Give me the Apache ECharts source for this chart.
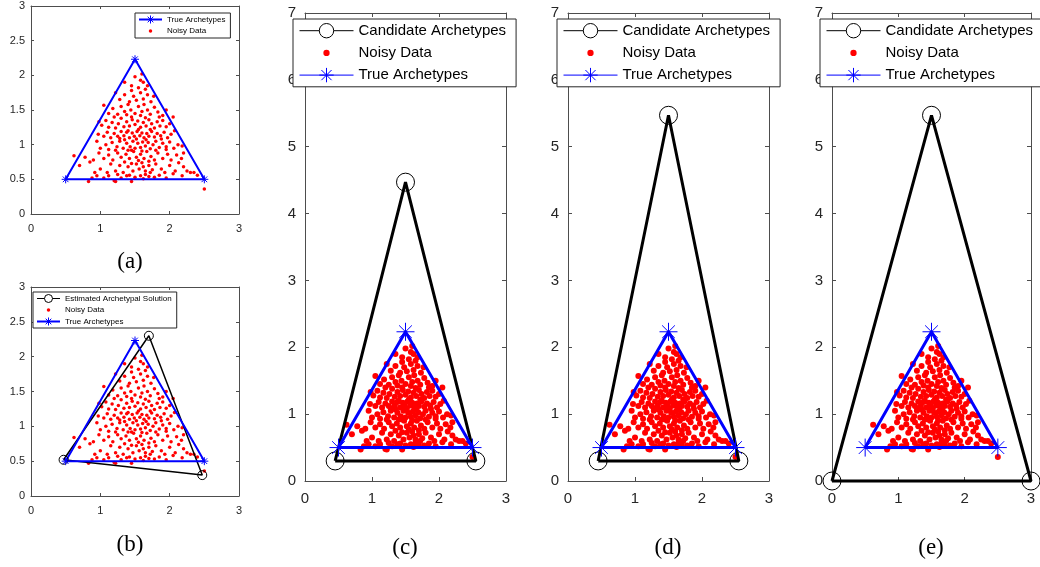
<!DOCTYPE html>
<html>
<head>
<meta charset="utf-8">
<script src="https://cdn.jsdelivr.net/npm/echarts@6/dist/echarts.min.js"></script>
<style>
html, body { margin: 0; padding: 0; background: #fff; }
#chartDom { width: 1040px; height: 567px; }
</style>
</head>
<body>
<div id="chartDom"></div>
<script>
// noisy samples; the same cloud is plotted in every panel
var noisyData = [
  [0.83,0.47],[0.88,0.52],[0.95,0.55],[1.05,0.52],[1.12,0.55],[1.2,0.48],[1.22,0.47],[1.3,0.52],[1.38,0.55],[1.45,0.47],
  [1.5,0.53],[1.58,0.55],[1.62,0.51],[1.7,0.54],[1.78,0.53],[1.85,0.56],[1.95,0.52],[2.05,0.58],[2.18,0.55],[2.3,0.6],
  [2.4,0.56],[2.5,0.36],[1.65,0.57],[1.42,0.56],[1.25,0.57],
  [0.7,0.7],[0.85,0.75],[0.92,0.6],[1.0,0.65],[1.1,0.6],[1.15,0.72],[1.22,0.62],[1.28,0.7],[1.33,0.6],[1.4,0.68],
  [1.47,0.62],[1.52,0.72],[1.56,0.65],[1.6,0.74],[1.65,0.62],[1.7,0.7],[1.75,0.64],[1.8,0.72],[1.88,0.65],[1.93,0.6],
  [2.0,0.7],[2.08,0.62],[2.13,0.74],[2.25,0.62],[2.35,0.6],[1.35,0.75],[1.45,0.73],[1.62,0.68],[1.72,0.6],[2.2,0.68],
  [0.62,0.84],[0.78,0.82],[0.9,0.78],[0.98,0.88],[1.05,0.8],[1.12,0.85],[1.18,0.78],[1.25,0.88],[1.3,0.82],[1.37,0.86],
  [1.42,0.8],[1.48,0.9],[1.52,0.82],[1.58,0.86],[1.63,0.8],[1.67,0.9],[1.73,0.83],[1.78,0.78],[1.83,0.88],[1.9,0.8],
  [1.97,0.86],[2.02,0.78],[2.1,0.85],[2.17,0.8],[2.2,0.88],[1.55,0.77],[1.4,0.92],[1.7,0.76],[1.22,0.92],[1.95,0.93],
  [0.95,1.05],[1.0,0.95],[1.08,1.0],[1.12,0.93],[1.17,1.03],[1.24,0.97],[1.28,1.05],[1.33,0.95],[1.38,1.02],[1.43,0.97],
  [1.47,1.05],[1.5,0.95],[1.54,1.02],[1.58,0.96],[1.61,1.04],[1.65,0.98],[1.69,1.03],[1.72,0.94],[1.76,1.0],[1.8,1.05],
  [1.85,0.96],[1.9,1.02],[1.95,0.97],[2.0,1.04],[2.06,0.95],[2.12,1.0],[2.18,0.98],[1.35,1.07],[1.52,1.08],[1.66,1.07],
  [1.45,0.92],[1.6,0.91],[1.8,0.92],
  [0.97,1.15],[1.05,1.12],[1.1,1.18],[1.15,1.1],[1.2,1.16],[1.25,1.12],[1.3,1.19],[1.34,1.13],[1.38,1.18],[1.42,1.1],
  [1.46,1.17],[1.49,1.12],[1.53,1.19],[1.57,1.13],[1.6,1.17],[1.63,1.1],[1.67,1.16],[1.7,1.12],[1.74,1.19],[1.78,1.11],
  [1.82,1.16],[1.87,1.13],[1.92,1.18],[1.97,1.1],[2.02,1.15],[2.07,1.2],[1.4,1.2],[1.55,1.22],[1.72,1.22],[1.28,1.09],
  [1.88,1.08],
  [1.02,1.28],[1.08,1.35],[1.12,1.25],[1.17,1.32],[1.22,1.24],[1.26,1.3],[1.3,1.38],[1.34,1.26],[1.38,1.33],[1.42,1.27],
  [1.46,1.36],[1.5,1.29],[1.54,1.34],[1.58,1.25],[1.62,1.32],[1.66,1.27],[1.7,1.36],[1.74,1.3],[1.78,1.24],[1.82,1.33],
  [1.86,1.27],[1.9,1.35],[1.95,1.26],[2.0,1.3],[2.05,1.4],[0.98,1.33],[1.2,1.4],[1.45,1.4],[1.65,1.39],[1.85,1.4],
  [1.05,1.57],[1.12,1.45],[1.18,1.52],[1.25,1.44],[1.3,1.55],[1.35,1.48],[1.4,1.58],[1.44,1.5],[1.5,1.45],[1.55,1.55],
  [1.6,1.48],[1.63,1.58],[1.68,1.5],[1.72,1.44],[1.78,1.54],[1.83,1.47],[1.9,1.42],[1.95,1.5],[1.38,1.43],[1.58,1.42],
  [1.22,1.75],[1.28,1.65],[1.35,1.72],[1.42,1.62],[1.48,1.7],[1.52,1.64],[1.58,1.75],[1.62,1.66],[1.68,1.72],[1.73,1.62],
  [1.77,1.7],[1.45,1.78],[1.65,1.8],
  [1.35,1.9],[1.45,1.85],[1.55,1.82],[1.58,1.93],[1.62,1.9],[1.6,2.02],[1.5,1.98],[1.68,1.85]
];

var trueArchetypes = [[0.5, 0.5], [1.5, 2.232], [2.5, 0.5]];
var estimatedArchetypes = [[0.47, 0.52], [1.7, 2.3], [2.47, 0.3]];
var candidateC = [[0.45, 0.3], [1.5, 4.47], [2.55, 0.3]];
var candidateD = [[0.45, 0.3], [1.5, 5.47], [2.55, 0.3]];
var candidateE = [[0, 0], [1.5, 5.47], [3, 0]];
var captions = ['(a)', '(b)', '(c)', '(d)', '(e)'];

var STAR = 'path://M10,0L10,20M0,10L20,10M2.93,2.93L17.07,17.07M2.93,17.07L17.07,2.93';
var DOT_BIG = 'path://M0,0M20,20M13.5,10A3.5,3.5,0,1,1,6.5,10A3.5,3.5,0,1,1,13.5,10Z';
var DOT_SMALL = 'path://M0,0M20,20M13.5,10A3.5,3.5,0,1,1,6.5,10A3.5,3.5,0,1,1,13.5,10Z';
var BOX = '#4d4d4d', TXT = '#262626', FONT = 'Liberation Sans';

var myChart = echarts.init(document.getElementById('chartDom'));

var grids = [
  {left: 31, top: 6, width: 208, height: 208},
  {left: 31, top: 287, width: 208, height: 209},
  {left: 305, top: 13, width: 201, height: 468},
  {left: 568, top: 13, width: 201, height: 468},
  {left: 832, top: 13, width: 199, height: 468}
];
var xAxes = [], yAxes = [], series = [];

function addAxes(g, yMax, yStep, small) {
  var fs = small ? 11 : 15;
  var common = {
    gridIndex: g, type: 'value',
    axisLine: {show: true, onZero: false, lineStyle: {color: BOX, width: 1}},
    axisTick: {show: true, inside: true, length: small ? 3 : 4, lineStyle: {color: BOX}},
    splitLine: {show: false}
  };
  xAxes.push(Object.assign({}, common, {position: 'bottom', min: 0, max: 3, interval: 1,
    axisLabel: {fontSize: fs, color: TXT, fontFamily: FONT, margin: small ? 9 : 10}}));
  xAxes.push(Object.assign({}, common, {position: 'top', min: 0, max: 3, interval: 1, axisLabel: {show: false}}));
  yAxes.push(Object.assign({}, common, {position: 'left', min: 0, max: yMax, interval: yStep,
    axisLabel: {fontSize: fs, color: TXT, fontFamily: FONT, margin: small ? 6 : 9}}));
  yAxes.push(Object.assign({}, common, {position: 'right', min: 0, max: yMax, interval: yStep, axisLabel: {show: false}}));
}

function closed(pts) {
  return pts.concat([{value: pts[0], symbol: 'none'}]);
}

function trueSeries(g, big) {
  return {
    name: 'True Archetypes', type: 'line', xAxisIndex: 2 * g, yAxisIndex: 2 * g,
    data: closed(trueArchetypes), symbol: STAR, symbolSize: big ? 18 : 8,
    lineStyle: {color: '#0000ff', width: big ? 3 : 2},
    itemStyle: {color: '#0000ff', borderColor: '#0000ff', borderWidth: 1},
    clip: false, silent: true, animation: false
  };
}
function noisySeries(g, big) {
  return {
    name: 'Noisy Data', type: 'scatter', xAxisIndex: 2 * g, yAxisIndex: 2 * g,
    data: noisyData, symbol: 'circle', symbolSize: big ? 6 : 3.5,
    itemStyle: {color: '#ff0000', opacity: 1}, silent: true, animation: false
  };
}
function blackSeries(g, name, pts, big) {
  return {
    name: name, type: 'line', xAxisIndex: 2 * g, yAxisIndex: 2 * g,
    data: closed(pts), symbol: 'circle', symbolSize: big ? 18 : 9,
    lineStyle: {color: '#000', width: big ? 3 : 1.5},
    itemStyle: {color: 'rgba(0,0,0,0)', borderColor: '#000', borderWidth: 1},
    clip: false, silent: true, animation: false
  };
}

// (a)
addAxes(0, 3, 0.5, true);
series.push(trueSeries(0, false), noisySeries(0, false));
// (b)
addAxes(1, 3, 0.5, true);
series.push(blackSeries(1, 'Estimated Archetypal Solution', estimatedArchetypes, false), noisySeries(1, false), trueSeries(1, false));
// (c) (d) (e)
[candidateC, candidateD, candidateE].forEach(function (pts, i) {
  var g = i + 2;
  addAxes(g, 7, 1, false);
  series.push(blackSeries(g, 'Candidate Archetypes', pts, true), noisySeries(g, true), trueSeries(g, true));
});

function smallLegend(left, top, names) {
  var items = names.map(function (n) {
    if (n === 'Noisy Data') return {name: n, icon: DOT_SMALL, itemStyle: {color: '#ff0000', borderWidth: 0}};
    if (n === 'True Archetypes') return {name: n, lineStyle: {color: '#0000ff', width: 2, type: 'solid'},
      itemStyle: {color: '#0000ff', borderColor: '#0000ff', borderWidth: 1}};
    return {name: n, lineStyle: {color: '#000', width: 1, type: 'solid'},
      itemStyle: {color: '#fff', borderColor: '#000', borderWidth: 1}};
  });
  return {
    orient: 'vertical', left: left, top: top, padding: [2, 5, 2, 3],
    itemWidth: 23, itemHeight: 10, itemGap: 2, selectedMode: false,
    backgroundColor: '#fff', borderColor: '#262626', borderWidth: 1, borderRadius: 0,
    textStyle: {fontSize: 8, color: '#000', fontFamily: FONT},
    data: items
  };
}
function bigLegend(left) {
  return {
    orient: 'vertical', left: left, top: 19, padding: [4, 10, 4, 6],
    itemWidth: 54, itemHeight: 18, itemGap: 5.5, selectedMode: false,
    backgroundColor: '#fff', borderColor: '#262626', borderWidth: 1, borderRadius: 0,
    textStyle: {fontSize: 15, color: '#000', fontFamily: FONT},
    data: [
      {name: 'Candidate Archetypes', lineStyle: {color: '#000', width: 1, type: 'solid'},
        itemStyle: {color: '#fff', borderColor: '#000', borderWidth: 1}},
      {name: 'Noisy Data', icon: DOT_BIG, itemStyle: {color: '#ff0000', borderWidth: 0}},
      {name: 'True Archetypes', lineStyle: {color: '#0000ff', width: 1, type: 'solid'},
        itemStyle: {color: '#0000ff', borderColor: '#0000ff', borderWidth: 1}}
    ]
  };
}

var capPos = [[130, 262], [130, 545], [405, 548], [668, 548], [931, 548]];
var graphics = captions.map(function (c, i) {
  return {
    type: 'text', x: capPos[i][0], y: capPos[i][1], silent: true,
    style: {text: c, fontSize: 23, fontFamily: 'Liberation Serif', fill: '#000', align: 'center', verticalAlign: 'middle'}
  };
});

var option = {
  animation: false,
  backgroundColor: '#fff',
  grid: grids,
  xAxis: xAxes,
  yAxis: yAxes,
  legend: [
    smallLegend(135, 13, ['True Archetypes', 'Noisy Data']),
    smallLegend(33, 292, ['Estimated Archetypal Solution', 'Noisy Data', 'True Archetypes']),
    bigLegend(293), bigLegend(557), bigLegend(820)
  ],
  graphic: graphics,
  series: series
};

myChart.setOption(option);
</script>
</body>
</html>
